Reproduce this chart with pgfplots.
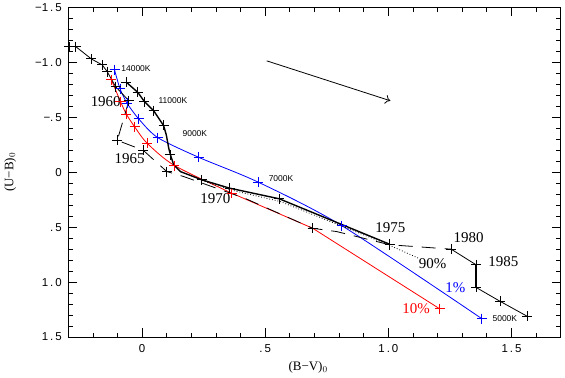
\documentclass[border=0pt]{standalone}
\usepackage{fontspec}
\setmainfont{Liberation Serif}
\newfontfamily\tksf{Liberation Sans}
\usepackage{pgfplots}
\pgfplotsset{compat=1.18}
\usetikzlibrary{arrows.meta}
\newcommand\tk[1]{{\tksf\fontsize{11.5}{11.5}\selectfont #1}}
\newcommand\yr{\fontsize{15}{15}\selectfont}
\newcommand\sm{\tksf\fontsize{8.5}{8.5}\selectfont}
\begin{document}
\begin{tikzpicture}
\begin{axis}[
  scale only axis,
  width=492bp, height=329.5bp,
  xmin=-0.3, xmax=1.7, ymin=-1.5, ymax=1.5,
  y dir=reverse,
  clip=false,
  axis line style={line width=0.9bp},
  xtick={0,0.5,1,1.5},
  xticklabels={\tk{0},\tk{.\kern2bp5},\tk{1\kern2bp.\kern2bp0},\tk{1\kern2bp.\kern2bp5}},
  minor xtick={-0.2,-0.1,0.1,0.2,0.3,0.4,0.6,0.7,0.8,0.9,1.1,1.2,1.3,1.4,1.6},
  ytick={-1.5,-1,-0.5,0,0.5,1,1.5},
  yticklabels={\tk{−1\kern2bp.\kern2bp5},\tk{−1\kern2bp.\kern2bp0},\tk{−.\kern2bp5},\tk{0},\tk{.\kern2bp5},\tk{1\kern2bp.\kern2bp0},\tk{1\kern2bp.\kern2bp5}},
  minor ytick={-1.4,-1.3,-1.2,-1.1,-0.9,-0.8,-0.7,-0.6,-0.4,-0.3,-0.2,-0.1,0.1,0.2,0.3,0.4,0.6,0.7,0.8,0.9,1.1,1.2,1.3,1.4},
  major tick length=9bp, minor tick length=4.5bp,
  every tick/.style={black, line width=0.8bp},
  xticklabel style={yshift=-4bp},
  yticklabel style={xshift=-3bp},
  xlabel={\fontsize{13}{13}\selectfont(B−V)$_0$},
  ylabel={\fontsize{13}{13}\selectfont(U−B)$_0$},
  xlabel style={at={(axis description cs:0.487,-0.093)}, anchor=center},
  ylabel style={at={(axis description cs:-0.118,0.5)}, anchor=center},
]
% 1% model (blue)
\addplot[blue, line width=0.8bp, smooth, tension=0.45] coordinates {
(-0.112,-0.93) (-0.09,-0.76) (-0.061,-0.627) (-0.014,-0.485) (0.063,-0.315) (0.229,-0.136) (0.472,0.091) (0.81,0.485) (1.38,1.333)};
\addplot[blue, only marks, mark=+, mark size=5bp, mark options={line width=1bp}] coordinates {
(-0.112,-0.93) (-0.09,-0.76) (-0.061,-0.627) (-0.014,-0.485) (0.063,-0.315) (0.229,-0.136) (0.472,0.091) (0.81,0.485) (1.38,1.333)};
% 10% model (red)
\addplot[red, line width=0.8bp, smooth, tension=0.45] coordinates {
(-0.125,-0.84) (-0.088,-0.643) (-0.064,-0.527) (-0.031,-0.415) (0.02,-0.264) (0.131,-0.061) (0.364,0.191)};
\addplot[red, line width=0.8bp] coordinates {(0.364,0.191) (0.692,0.509) (1.208,1.242)};
\addplot[red, only marks, mark=+, mark size=5bp, mark options={line width=1bp}] coordinates {
(-0.125,-0.84) (-0.088,-0.643) (-0.064,-0.527) (-0.031,-0.415) (0.02,-0.264) (0.131,-0.061) (0.364,0.191) (0.692,0.509) (1.208,1.242)};
% 90% model (dotted)
\addplot[black, line width=0.8bp, dotted] coordinates {
(0.243,0.075) (0.357,0.16) (0.56,0.266) (1.0,0.66) (1.12,0.78)};
% sequence (thick black)
\addplot[black, line width=1.4bp] coordinates {
(-0.064,-0.818) (-0.018,-0.727) (0.009,-0.643) (0.047,-0.558) (0.087,-0.425) (0.098,-0.34) (0.108,-0.218) (0.115,-0.158) (0.128,-0.067) (0.155,-0.006) (0.243,0.07) (0.355,0.145) (0.557,0.242) (1.005,0.655)};
\addplot[black, only marks, mark=+, mark size=5bp, mark options={line width=1bp}] coordinates {
(-0.064,-0.818) (-0.018,-0.727) (0.009,-0.643) (0.047,-0.558) (0.087,-0.425) (0.115,-0.158) (0.243,0.07) (0.355,0.145) (0.557,0.242) (1.005,0.655)};
% observed track
\addplot[black, line width=0.8bp] coordinates {
(-0.297,-1.143) (-0.27,-1.143) (-0.206,-1.03) (-0.162,-0.976) (-0.142,-0.915) (-0.108,-0.779) (-0.054,-0.65)};
\addplot[black, line width=0.8bp, dash pattern=on 14bp off 9bp] coordinates {
(-0.054,-0.65) (-0.101,-0.29) (0.004,-0.20) (0.10,-0.006) (0.168,0.039) (0.42,0.24) (0.692,0.51) (0.79,0.54) (1.005,0.66) (1.255,0.70)};
\addplot[black, line width=0.8bp] coordinates {
(1.255,0.70) (1.356,0.842) (1.356,1.048) (1.455,1.176) (1.565,1.312)};
\addplot[black, line width=1.5bp] coordinates {(1.356,0.842) (1.356,1.048)};
\addplot[black, only marks, mark=+, mark size=5bp, mark options={line width=1bp}] coordinates {
(-0.297,-1.143) (-0.27,-1.143) (-0.206,-1.03) (-0.162,-0.976) (-0.142,-0.915) (-0.108,-0.779) (-0.054,-0.65) (-0.101,-0.29) (0.004,-0.20) (0.10,-0.006) (0.692,0.51) (1.005,0.66) (1.255,0.70) (1.356,0.842) (1.356,1.048) (1.455,1.176) (1.565,1.312)};
% reddening arrow
\addplot[black, line width=0.8bp, -{To[length=5bp,width=9bp]}] coordinates {(0.506,-1.013) (1.008,-0.65)};
% labels
\node[font=\yr] at (axis cs:-0.148,-0.643) {1960};
\node[font=\yr] at (axis cs:-0.051,-0.124) {1965};
\node[font=\yr] at (axis cs:0.297,0.24) {1970};
\node[font=\yr] at (axis cs:1.008,0.503) {1975};
\node[font=\yr] at (axis cs:1.326,0.594) {1980};
\node[font=\yr] at (axis cs:1.467,0.812) {1985};
\node[font=\yr] at (axis cs:1.18,0.833) {90\%};
\node[font=\yr, text=blue] at (axis cs:1.272,1.048) {1\%};
\node[font=\yr, text=red] at (axis cs:1.113,1.242) {10\%};
\node[font=\sm] at (axis cs:-0.025,-0.94) {14000K};
\node[font=\sm] at (axis cs:0.125,-0.652) {11000K};
\node[font=\sm] at (axis cs:0.214,-0.352) {9000K};
\node[font=\sm] at (axis cs:0.564,0.06) {7000K};
\node[font=\sm] at (axis cs:1.473,1.336) {5000K};
\path (axis description cs:-0.1387,-0.123) rectangle (axis description cs:1.0087,1.0152);
\end{axis}
\end{tikzpicture}
\end{document}
